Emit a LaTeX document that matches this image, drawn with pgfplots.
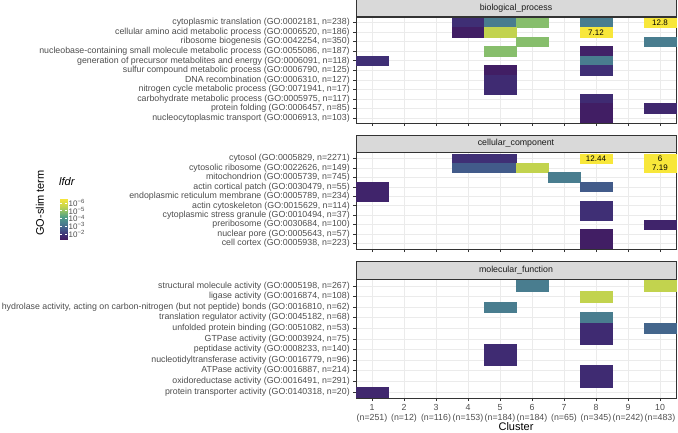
\documentclass[border=0pt]{standalone}
\usepackage{pgfplots}
\pgfplotsset{compat=1.18}
\usepackage{fontspec}
\setmainfont{Liberation Sans}
\definecolor{gridc}{HTML}{EBEBEB}
\definecolor{bordc}{HTML}{333333}
\definecolor{tickc}{HTML}{4D4D4D}
\definecolor{stripc}{HTML}{D9D9D9}
\definecolor{striptxt}{HTML}{1A1A1A}
\definecolor{capc}{HTML}{F8E73A}
\newcommand{\axfont}{\fontsize{8.8}{9.7}\selectfont}
\pgfplotsset{
  colormap={refvir}{rgb255(0)=(66,24,94) rgb255(12)=(63,45,116) rgb255(27)=(65,88,138)
    rgb255(40)=(74,127,143) rgb255(55)=(78,158,135) rgb255(70)=(136,191,107)
    rgb255(82)=(194,211,78) rgb255(100)=(245,229,59)},
  panel/.style={
    scale only axis, width=320pt,
    xmin=0.5, xmax=10.5, xtick={1,...,10}, xticklabels={},
    y dir=reverse, ymin=0.4,
    colormap name=refvir,
    point meta min=1.23, point meta max=6.5,
    grid=major, major grid style={draw=gridc, line width=0.5pt},
    axis line style={draw=bordc, line width=0.5pt},
    tick style={draw=bordc, line width=0.5pt},
    tick align=outside, major tick length=2.75pt, tick pos=left,
    ticklabel style={font=\axfont, text=tickc},
    every axis title/.style={at={(0.5,1)}, anchor=south, fill=stripc, draw=bordc,
      line width=0.5pt, minimum width=320pt, minimum height=17.5pt, inner sep=0pt,
      font=\axfont, text=striptxt},
  },
  hmcells/.style={scatter, only marks, mark=square*, mark size=0.5pt,
    mark options={xscale=32, yscale=#1, line width=0.2pt},
    scatter/use mapped color={draw=mapped color, fill=mapped color}, point meta=explicit},
  hmcaps/.style={only marks, mark=square*, mark size=0.5pt,
    mark options={xscale=32, yscale=#1, draw=capc, fill=capc, line width=0.2pt},
    point meta=explicit symbolic, nodes near coords,
    nodes near coords style={anchor=center, font=\fontsize{8}{9}\selectfont, text=black}},
}
\begin{document}
\begin{tikzpicture}
\useasboundingbox (0,0) rectangle (678pt,433pt);

% ---------------- biological_process ----------------
\begin{axis}[panel, at={(356pt,309.5pt)}, anchor=south west, height=106.5pt,
  ymax=11.6, ytick={1,...,11},
  yticklabels={{cytoplasmic translation (GO:0002181, n=238)},
    {cellular amino acid metabolic process (GO:0006520, n=186)},
    {ribosome biogenesis (GO:0042254, n=350)},
    {nucleobase-containing small molecule metabolic process (GO:0055086, n=187)},
    {generation of precursor metabolites and energy (GO:0006091, n=118)},
    {sulfur compound metabolic process (GO:0006790, n=125)},
    {DNA recombination (GO:0006310, n=127)},
    {nitrogen cycle metabolic process (GO:0071941, n=17)},
    {carbohydrate metabolic process (GO:0005975, n=117)},
    {protein folding (GO:0006457, n=85)},
    {nucleocytoplasmic transport (GO:0006913, n=103)}},
  title={biological\_process}]
\addplot[hmcells=9.51] table[x=x,y=y,meta=m]{
x y m
4 1 1.9
5 1 3.3
6 1 4.9
8 1 3.3
4 2 1.4
5 2 5.55
6 3 4.9
10 3 3.3
5 4 4.9
8 4 1.5
1 5 1.9
8 5 3.3
5 6 1.4
8 6 1.9
5 7 1.8
5 8 1.8
8 9 1.8
8 10 1.4
10 10 1.7
8 11 1.4
};
\addplot[hmcaps=9.51] table[x=x,y=y,meta=lab]{
x y lab
10 1 12.8
8 2 7.12
};
\end{axis}

% ---------------- cellular_component ----------------
\begin{axis}[panel, at={(356pt,183.7pt)}, anchor=south west, height=96.6pt,
  ymax=10.6, ytick={1,...,10},
  yticklabels={{cytosol (GO:0005829, n=2271)},
    {cytosolic ribosome (GO:0022626, n=149)},
    {mitochondrion (GO:0005739, n=745)},
    {actin cortical patch (GO:0030479, n=55)},
    {endoplasmic reticulum membrane (GO:0005789, n=234)},
    {actin cytoskeleton (GO:0015629, n=114)},
    {cytoplasmic stress granule (GO:0010494, n=37)},
    {preribosome (GO:0030684, n=100)},
    {nuclear pore (GO:0005643, n=57)},
    {cell cortex (GO:0005938, n=223)}},
  title={cellular\_component}]
\addplot[hmcells=9.47] table[x=x,y=y,meta=m]{
x y m
4 1 1.9
5 1 1.9
4 2 2.7
5 2 2.7
6 2 5.55
7 3 3.3
1 4 1.6
8 4 2.7
1 5 1.6
8 6 1.9
8 7 1.9
10 8 1.6
8 9 1.4
8 10 1.4
};
\addplot[hmcaps=9.47] table[x=x,y=y,meta=lab]{
x y lab
8 1 12.44
10 1 6
10 2 7.19
};
\end{axis}

% ---------------- molecular_function ----------------
\begin{axis}[panel, at={(356pt,34.7pt)}, anchor=south west, height=118.8pt,
  ymax=11.6, ytick={1,...,11},
  yticklabels={{structural molecule activity (GO:0005198, n=267)},
    {ligase activity (GO:0016874, n=108)},
    {hydrolase activity, acting on carbon-nitrogen (but not peptide) bonds (GO:0016810, n=62)},
    {translation regulator activity (GO:0045182, n=68)},
    {unfolded protein binding (GO:0051082, n=53)},
    {GTPase activity (GO:0003924, n=75)},
    {peptidase activity (GO:0008233, n=140)},
    {nucleotidyltransferase activity (GO:0016779, n=96)},
    {ATPase activity (GO:0016887, n=214)},
    {oxidoreductase activity (GO:0016491, n=291)},
    {protein transporter activity (GO:0140318, n=20)}},
  xticklabels={{1\\(n=251)},{2\\(n=12)},{3\\(n=116)},{4\\(n=153)},{5\\(n=184)},
    {6\\(n=184)},{7\\(n=65)},{8\\(n=345)},{9\\(n=242)},{10\\(n=483)}},
  xticklabel style={align=center},
  title={molecular\_function}]
\addplot[hmcells=10.6] table[x=x,y=y,meta=m]{
x y m
6 1 3.3
10 1 5.55
8 2 5.55
5 3 3.3
8 4 3.3
8 5 1.8
10 5 2.9
8 6 1.8
5 7 1.8
5 8 1.8
8 9 1.8
8 10 1.8
1 11 1.7
};
\end{axis}

% ---------------- colour legend (lfdr, as -log10) ----------------
\begin{axis}[at={(60pt,193pt)}, anchor=south west, scale only axis, width=7pt, height=41pt,
  xmin=0, xmax=1, ymin=1.23, ymax=6.5,
  colormap name=refvir,
  point meta min=1.23, point meta max=6.5,
  xtick=\empty, ytick={2,3,4,5,6},
  yticklabels={10\textsuperscript{−2},10\textsuperscript{−3},10\textsuperscript{−4},10\textsuperscript{−5},10\textsuperscript{−6}},
  ytick pos=both, yticklabel pos=right, tick align=inside, major tick length=1.6pt,
  tick style={draw=white, line width=0.4pt}, axis line style={draw=none},
  axis on top,
  yticklabel style={font=\fontsize{8}{9}\selectfont, text=tickc, inner sep=1.5pt}]
\addplot[patch, patch type=rectangle, shader=interp, point meta=explicit] coordinates {
(0,1.23)[1.23] (1,1.23)[1.23] (1,2)[2] (0,2)[2]
(0,2)[2] (1,2)[2] (1,3)[3] (0,3)[3]
(0,3)[3] (1,3)[3] (1,4)[4] (0,4)[4]
(0,4)[4] (1,4)[4] (1,5)[5] (0,5)[5]
(0,5)[5] (1,5)[5] (1,6)[6] (0,6)[6]
(0,6)[6] (1,6)[6] (1,6.5)[6.5] (0,6.5)[6.5]
};
\end{axis}

\node[rotate=90, font=\fontsize{11}{13}\selectfont] at (40pt,230pt) {GO-slim term};
\node[anchor=base, inner sep=0pt, font=\fontsize{11}{13}\selectfont] at (516pt,2pt) {Cluster};
\node[anchor=base west, inner sep=0pt, font=\fontsize{11}{13}\selectfont\itshape] at (59pt,247pt) {lfdr};
\end{tikzpicture}
\end{document}
